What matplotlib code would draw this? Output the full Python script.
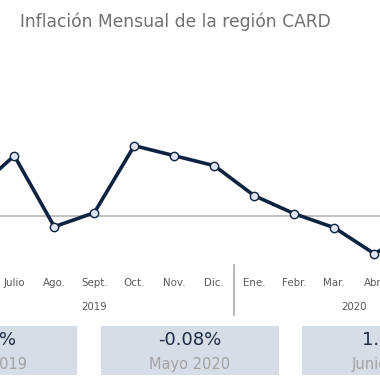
import matplotlib
matplotlib.use("Agg")
import matplotlib.pyplot as plt
from matplotlib.patches import Rectangle
from matplotlib.transforms import blended_transform_factory
import numpy as np

# ---- data ----
months = ["Junio", "Julio", "Ago.", "Sept.", "Oct.", "Nov.", "Dic.",
          "Ene.", "Febr.", "Mar.", "Abr.", "Mayo", "Junio"]
years = ["2019", "2020"]
year_of_month = [0, 0, 0, 0, 0, 0, 0, 1, 1, 1, 1, 1, 1]
inflation = [0.12, 0.30, -0.055, 0.015, 0.35, 0.30, 0.25,
             0.10, 0.01, -0.06, -0.19, -0.08]
box_values = ["0.56%", "-0.08%", "1.07%"]
box_labels = ["Junio 2019", "Mayo 2020", "Junio 2020"]

W = H = 380
fig = plt.figure(figsize=(3.8, 3.8), dpi=100)
fig.patch.set_facecolor("white")

def fy(py):
    return 1 - py / H

def fx(px):
    return px / W

# axes spanning pixel rows 60..265
top_px, bot_px = 60, 265
ax = fig.add_axes([0, fy(bot_px), 1, (bot_px - top_px) / H])
ax.set_axis_off()

# x mapping: pixel = -25.7 + 40 * i
x0, step = -25.7, 40.0
ax.set_xlim((0 - x0) / step, (W - x0) / step)
zero_px, scale = 215.7, 200.0
ax.set_ylim((zero_px - bot_px) / scale, (zero_px - top_px) / scale)

ax.axhline(0, color="#b5b5b5", lw=1.2, zorder=1)
xs = np.arange(len(inflation))
ax.plot(xs, inflation, color="#0e2341", lw=2.6, solid_joinstyle="round",
        marker="o", markersize=6, markerfacecolor="#dfe6f2",
        markeredgecolor="#0e2341", markeredgewidth=1.0, zorder=3, clip_on=True)

# title
fig.text(fx(20), fy(22), "Inflación Mensual de la región CARD",
         ha="left", va="center", fontsize=12.3, color="#707070",
         family="DejaVu Sans")

trans = blended_transform_factory(ax.transData, fig.transFigure)
for i, m in enumerate(months):
    ax.text(i, fy(283), m, transform=trans, ha="center", va="center",
            fontsize=7.4, color="#5a5a5a", clip_on=False)
for k, yname in enumerate(years):
    idx = [i for i, y in enumerate(year_of_month) if y == k]
    ax.text(np.mean(idx), fy(307), yname, transform=trans, ha="center",
            va="center", fontsize=7.4, color="#5a5a5a", clip_on=False)

# separator between years
ax.plot([6.5, 6.5], [fy(265), fy(315)], transform=trans, color="#b0b0b0",
        lw=1.3, clip_on=False)

# bottom boxes
box_w, gap = 178.0, 23.3
left0 = -100.7
for k in range(3):
    bl = left0 + k * (box_w + gap)
    fig.patches.append(Rectangle((fx(bl), fy(375)), box_w / W, 49 / H,
                                 transform=fig.transFigure,
                                 facecolor="#d6dde6", edgecolor="none",
                                 zorder=0))
    cx = bl + box_w / 2
    fig.text(fx(cx), fy(340), box_values[k], ha="center", va="center",
             fontsize=13, color="#1d2a44")
    fig.text(fx(cx), fy(364), box_labels[k], ha="center", va="center",
             fontsize=10.5, color="#a2a2a2")

fig.savefig("out.png", dpi=100, facecolor="white")
